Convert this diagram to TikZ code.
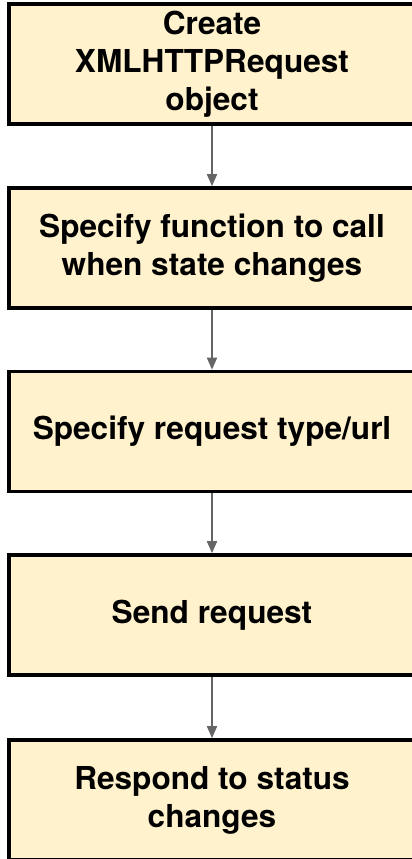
\documentclass[tikz,border=0pt]{standalone}
\usepackage{fontspec}
\setmainfont{TeX Gyre Heros}
\usetikzlibrary{arrows.meta}
\definecolor{boxfill}{HTML}{FFF2CC}
\definecolor{arrowgray}{HTML}{666666}
\begin{document}
\begin{tikzpicture}[x=1bp,y=-1bp,
  stepbox/.style={draw=black, line width=3.6bp, fill=boxfill,
    minimum width=406bp, minimum height=120bp, inner sep=0pt, align=center,
    font=\fontsize{31.6bp}{38bp}\selectfont\bfseries},
  flow/.style={draw=arrowgray, line width=1.6bp,
    -{Triangle[length=12bp,width=10bp]}}]
\useasboundingbox (0,0) rectangle (411,859);
\node[stepbox] (b1) at (212,64) {Create\\XMLHTTPRequest\\object};
\node[stepbox] (b2) at (212,248) {Specify function to call\\when state changes};
\node[stepbox] (b3) at (212,431.5) {Specify request type/url};
\node[stepbox] (b4) at (212,615) {Send request};
\node[stepbox] (b5) at (212,800) {Respond to status\\changes};
\draw[flow] (b1.south) -- (b2.north);
\draw[flow] (b2.south) -- (b3.north);
\draw[flow] (b3.south) -- (b4.north);
\draw[flow] (b4.south) -- (b5.north);
\end{tikzpicture}
\end{document}
